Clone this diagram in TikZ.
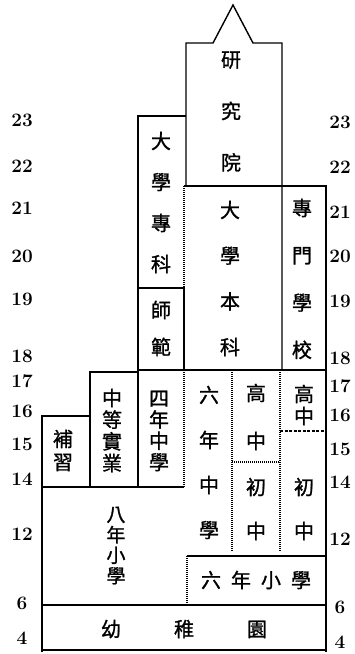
\documentclass[tikz,border=0pt]{standalone}
\usepackage{fontspec}
\newfontfamily\cjk[FakeBold=1.2]{Noto Sans CJK TC}
\begin{document}
\begin{tikzpicture}[x=1pt,y=-1pt,
  ln/.style={line width=1.4pt},
  thk/.style={line width=2.3pt},
  dotln/.style={line width=1.1pt, dash pattern=on 1pt off 1pt},
  dashln/.style={line width=1.1pt, dash pattern=on 3pt off 1.5pt},
  cj/.style={font=\cjk\fontsize{20}{#1}\selectfont, align=center, inner sep=0pt},
  cjs/.style={font=\cjk\fontsize{19}{#1}\selectfont, align=center, inner sep=0pt},
  num/.style={font=\fontsize{19}{19}\selectfont\bfseries, inner sep=0pt}]
\useasboundingbox (0,0) rectangle (355,654);
% frame lines
\draw[ln] (186,186) -- (186,43) -- (213,43) -- (233,5) -- (253,43) -- (282,43) -- (282,370);
\draw[ln] (186,116) -- (138,116) -- (138,487);
\draw[ln] (184,186) -- (326,186);
\draw[thk] (326,185) -- (326,652);
\draw[ln] (138,288) -- (184,288) -- (184,370);
\draw[dotln] (184,186) -- (184,288);
\draw[ln] (138,370) -- (326,370);
\draw[ln] (90,487) -- (90,372) -- (138,372);
\draw[ln] (42,652) -- (42,416) -- (90,416);
\draw[ln] (42,487) -- (184,487);
\draw[dotln] (184,370) -- (184,487);
\draw[dotln] (232,370) -- (232,552);
\draw[dotln] (280,370) -- (280,552);
\draw[dotln] (232,462) -- (280,462);
\draw[dashln] (280,431) -- (326,431);
\draw[ln] (187,556) -- (326,556);
\draw[dotln] (187,556) -- (187,605);
\draw[ln] (42,605) -- (326,605);
\draw[thk] (42,650) -- (326,650);
% texts
\node[cj=51.5] (yjy) at (231,111.5) {研\\究\\院};
\node[cj=41] (dxzk) at (161,202.5) {大\\學\\專\\科};
\node[cj=37] (sf) at (161,328.5) {師\\範};
\node[cj=45.7] (dxbk) at (230,278.5) {大\\學\\本\\科};
\node[cj=47.3] (zmxx) at (302,279) {專\\門\\學\\校};
\node[cj=21.7] (zdsy) at (112,430.5) {中\\等\\實\\業};
\node[cj=21.3] (snzx) at (159,431) {四\\年\\中\\學};
\node[cj=23] (bx) at (63,450.5) {補\\習};
\node[cj=45] (lnzx) at (209,462.5) {六\\年\\中\\學};
\node[cj=48] (gzm) at (256,417) {高\\中};
\node[cj=44] (czm) at (256,509) {初\\中};
\node[cj=22] (gzr) at (304,405) {高\\中};
\node[cj=44] (czr) at (304,509) {初\\中};
\node[cjs=20.5] (bnxx) at (116,545.5) {八\\年\\小\\學};
\node[cj=20] (lnxx) at (256,580) {六\hspace{10pt}年\hspace{10pt}小\hspace{10pt}學};
\node[cj=20] (yzy) at (184,629) {幼\hspace{53pt}稚\hspace{53pt}園};
% left numbers
\node[num] (l23) at (22,120) {23};
\node[num] (l22) at (22,166) {22};
\node[num] (l21) at (22,208) {21};
\node[num] (l20) at (22,256) {20};
\node[num] (l19) at (22,299) {19};
\node[num] (l18) at (22,356) {18};
\node[num] (l17) at (22,381) {17};
\node[num] (l16) at (22,411) {16};
\node[num] (l15) at (22,444) {15};
\node[num] (l14) at (22,479) {14};
\node[num] (l12) at (22,534) {12};
\node[num] (l6) at (22,603) {6};
\node[num] (l4) at (22,638) {4};
% right numbers
\node[num] (r23) at (340,122) {23};
\node[num] (r22) at (340,167) {22};
\node[num] (r21) at (340,212) {21};
\node[num] (r20) at (340,256) {20};
\node[num] (r19) at (340,301) {19};
\node[num] (r18) at (340,358) {18};
\node[num] (r17) at (340,386) {17};
\node[num] (r16) at (340,415) {16};
\node[num] (r15) at (340,449) {15};
\node[num] (r14) at (340,482) {14};
\node[num] (r12) at (340,539) {12};
\node[num] (r6) at (340,607) {6};
\node[num] (r4) at (340,642) {4};
\end{tikzpicture}
\end{document}
